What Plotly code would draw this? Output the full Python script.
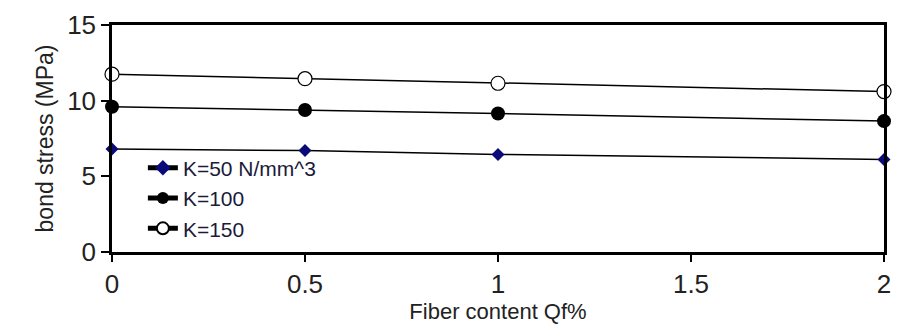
import plotly.graph_objects as go

fiber = [0, 0.5, 1, 2]
k50 = [6.8, 6.7, 6.45, 6.12]
k100 = [9.6, 9.38, 9.15, 8.65]
k150 = [11.75, 11.45, 11.15, 10.6]
names = ["K=50 N/mm^3", "K=100", "K=150"]

fig = go.Figure()
fig.add_trace(go.Scatter(x=fiber, y=k50, name=names[0], mode="lines+markers",
                         line=dict(color="black", width=1.5),
                         marker=dict(symbol="diamond", size=10, color="#0a0a78", line=dict(width=0)),
                         cliponaxis=False))
fig.add_trace(go.Scatter(x=fiber, y=k100, name=names[1], mode="lines+markers",
                         line=dict(color="black", width=1.5),
                         marker=dict(symbol="circle", size=14, color="black"),
                         cliponaxis=False))
fig.add_trace(go.Scatter(x=fiber, y=k150, name=names[2], mode="lines+markers",
                         line=dict(color="black", width=1.5),
                         marker=dict(symbol="circle", size=14, color="white", line=dict(color="black", width=1.2)),
                         cliponaxis=False))

fnt = dict(family="Liberation Sans, Arial, sans-serif", size=26, color="#222")
fig.update_layout(
    width=901, height=326,
    margin=dict(l=112, r=10, t=24, b=74),
    paper_bgcolor="white", plot_bgcolor="white",
    font=fnt,
    showlegend=True,
    legend=dict(x=0.04, y=0.46, xanchor="left", yanchor="top",
                bgcolor="rgba(0,0,0,0)", font=dict(size=21, color="#1a1a3a"),
                tracegroupgap=0, itemsizing="constant"),
)
fig.update_xaxes(range=[0, 2], tickvals=[0, 0.5, 1, 1.5, 2], ticktext=["0", "0.5", "1", "1.5", "2"],
                 showline=True, linecolor="black", linewidth=2.5, mirror=True,
                 ticks="outside", ticklen=7, tickwidth=1.5, tickcolor="black",
                 showgrid=False, zeroline=False,
                 title=dict(text="Fiber content Qf%", font=dict(size=22, color="#222"), standoff=2))
fig.update_yaxes(range=[0, 15], tickvals=[0, 5, 10, 15],
                 showline=True, linecolor="black", linewidth=2.5, mirror=True,
                 ticks="outside", ticklen=8, tickwidth=1.5, tickcolor="black",
                 showgrid=False, zeroline=False,
                 title=dict(text="bond stress (MPa)", font=dict(size=23, color="#222"), standoff=8))

fig.write_html("out.html")
